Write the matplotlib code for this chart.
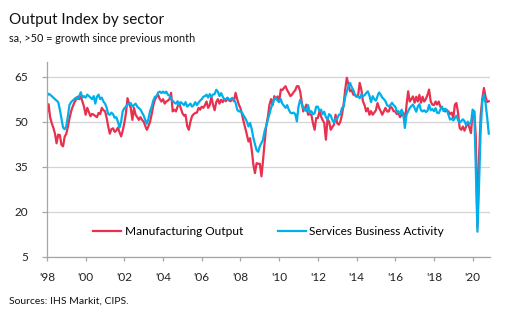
import numpy as np
import pandas as pd
import matplotlib
matplotlib.use("Agg")
import matplotlib.pyplot as plt

# monthly index values, Jan 1998 - Nov 2020
manufacturing = {
    1998: [53.0, 55.8, 51.5, 49.5, 48.0, 46.0, 42.8, 45.7, 45.5, 42.3, 41.8, 45.0],
    1999: [46.0, 48.4, 51.0, 53.4, 55.0, 56.3, 57.3, 58.3, 57.5, 58.3, 56.7, 55.0],
    2000: [52.3, 54.6, 53.2, 51.8, 52.6, 52.3, 51.9, 51.5, 52.9, 52.5, 54.6, 53.8],
    2001: [53.5, 51.2, 48.5, 46.0, 47.5, 47.8, 46.6, 47.0, 48.0, 46.5, 45.1, 47.0],
    2002: [49.6, 53.0, 57.8, 56.0, 54.6, 50.6, 54.6, 52.3, 51.5, 50.6, 51.5, 50.6],
    2003: [50.0, 48.5, 47.3, 48.5, 50.0, 52.5, 55.4, 57.3, 58.3, 58.9, 57.5, 56.7],
    2004: [57.5, 56.0, 56.7, 57.0, 57.5, 59.6, 53.4, 54.0, 53.4, 55.0, 56.3, 54.5],
    2005: [52.8, 52.0, 52.3, 48.5, 47.3, 50.0, 51.8, 52.5, 52.9, 53.0, 54.6, 54.0],
    2006: [55.0, 54.6, 55.5, 56.7, 54.6, 55.5, 58.3, 55.7, 53.8, 56.5, 57.5, 56.0],
    2007: [57.3, 56.5, 57.5, 56.8, 57.8, 57.0, 56.8, 57.9, 56.8, 59.6, 57.5, 55.7],
    2008: [54.5, 52.3, 50.0, 47.9, 45.7, 43.4, 44.5, 40.7, 35.7, 32.9, 36.2, 36.0],
    2009: [36.0, 31.8, 36.8, 43.0, 48.5, 51.5, 55.5, 57.5, 55.5, 58.5, 57.5, 58.4],
    2010: [56.7, 60.7, 60.5, 61.2, 61.8, 60.5, 59.6, 58.5, 59.0, 59.8, 60.5, 61.8],
    2011: [61.8, 60.1, 56.8, 53.4, 54.5, 55.7, 52.3, 52.5, 52.3, 49.5, 47.3, 51.2],
    2012: [51.2, 53.4, 51.8, 50.5, 49.6, 44.0, 50.7, 50.0, 47.3, 48.2, 49.0, 52.3],
    2013: [49.5, 49.0, 50.0, 52.3, 55.7, 60.7, 64.6, 62.3, 60.1, 60.5, 59.0, 58.8],
    2014: [58.3, 59.0, 62.9, 60.7, 56.8, 55.5, 53.4, 54.5, 52.3, 53.5, 52.3, 53.0],
    2015: [53.8, 56.2, 54.6, 53.5, 52.3, 53.5, 54.6, 53.4, 53.4, 55.0, 54.6, 53.5],
    2016: [53.4, 52.5, 52.9, 51.5, 52.3, 53.0, 49.5, 55.5, 60.1, 56.7, 57.5, 58.4],
    2017: [56.3, 58.3, 56.7, 58.9, 56.3, 58.3, 56.7, 57.5, 58.9, 60.7, 56.7, 55.7],
    2018: [55.5, 56.7, 55.7, 56.7, 55.0, 54.6, 54.0, 53.4, 53.8, 53.4, 52.5, 53.0],
    2019: [51.2, 55.7, 56.2, 53.0, 47.9, 47.3, 48.4, 47.0, 48.4, 49.5, 48.0, 46.2],
    2020: [53.0, 53.4, 45.0, 15.0, 38.0, 52.0, 57.5, 61.2, 58.3, 56.5, 56.8],
}

services = {
    1998: [58.5, 59.3, 59.0, 58.5, 58.0, 57.5, 57.0, 56.5, 54.0, 51.0, 48.0, 47.5],
    1999: [48.5, 52.0, 55.5, 56.5, 57.0, 57.5, 58.0, 57.5, 58.5, 59.8, 58.0, 58.5],
    2000: [58.0, 59.0, 58.5, 58.0, 57.5, 58.5, 56.0, 58.3, 59.0, 57.5, 58.0, 56.7],
    2001: [56.0, 54.7, 52.5, 52.3, 53.0, 52.5, 51.3, 51.5, 50.0, 48.0, 50.0, 53.5],
    2002: [54.5, 55.0, 55.7, 56.0, 56.2, 55.0, 55.5, 56.0, 55.0, 54.5, 54.0, 53.0],
    2003: [52.0, 50.5, 49.3, 51.0, 53.5, 55.0, 57.0, 58.3, 58.5, 59.7, 60.0, 59.5],
    2004: [60.0, 59.5, 60.0, 59.0, 58.7, 57.5, 57.0, 56.3, 56.0, 56.8, 55.5, 56.5],
    2005: [56.0, 55.5, 56.5, 55.0, 55.5, 56.0, 55.0, 55.5, 56.5, 55.5, 56.3, 57.0],
    2006: [57.5, 58.3, 58.5, 59.0, 58.0, 59.2, 58.3, 59.0, 59.2, 60.6, 60.0, 58.5],
    2007: [59.5, 58.3, 57.5, 57.5, 58.0, 57.3, 57.5, 57.8, 57.3, 56.3, 54.0, 53.4],
    2008: [53.5, 53.0, 52.0, 51.2, 50.0, 48.4, 49.6, 47.5, 44.6, 42.5, 40.5, 40.0],
    2009: [41.8, 43.0, 44.0, 46.8, 48.5, 50.7, 52.5, 54.6, 56.0, 57.5, 58.0, 57.0],
    2010: [56.5, 57.5, 56.0, 55.3, 54.6, 55.5, 54.0, 53.0, 52.8, 53.0, 52.5, 50.1],
    2011: [55.0, 57.3, 56.0, 54.6, 54.0, 53.5, 55.5, 53.0, 53.5, 52.5, 52.8, 55.0],
    2012: [55.0, 53.5, 54.0, 52.5, 53.3, 51.5, 50.7, 52.5, 52.0, 50.6, 49.7, 51.0],
    2013: [51.0, 52.3, 52.4, 54.6, 54.9, 58.3, 60.0, 61.8, 62.9, 61.5, 60.5, 59.0],
    2014: [58.3, 58.5, 57.8, 59.0, 58.5, 58.8, 59.5, 60.1, 58.7, 56.5, 58.5, 57.5],
    2015: [57.0, 58.5, 59.7, 59.0, 58.0, 57.5, 56.8, 55.5, 55.1, 55.5, 56.3, 55.5],
    2016: [55.0, 53.4, 53.5, 52.5, 54.0, 52.5, 47.9, 52.3, 53.5, 54.5, 55.2, 55.7],
    2017: [54.5, 53.3, 55.0, 55.8, 53.8, 53.4, 53.8, 53.2, 53.6, 55.6, 53.8, 54.2],
    2018: [53.5, 54.5, 53.0, 52.8, 54.0, 55.0, 53.5, 54.3, 53.9, 52.3, 50.7, 51.0],
    2019: [50.4, 51.2, 52.0, 50.5, 49.7, 50.2, 50.8, 50.2, 48.8, 50.0, 49.3, 49.6],
    2020: [54.0, 53.4, 34.5, 13.4, 29.0, 47.1, 56.5, 59.0, 56.2, 51.5, 46.0],
}

series_names = ["Manufacturing Output", "Services Business Activity"]
y_ticks = [5, 20, 35, 50, 65]
x_tick_years = list(range(1998, 2021, 2))
x_tick_labels = ["'" + str(y)[2:] for y in x_tick_years]

manu = np.concatenate([manufacturing[y] for y in sorted(manufacturing)])
serv = np.concatenate([services[y] for y in sorted(services)])
dates = pd.date_range("1998-01-01", periods=len(manu), freq="MS")

plt.rcParams["font.family"] = ["Lato", "DejaVu Sans"]

RED = "#e8314f"
BLUE = "#00b0ea"
GRID = "#d4d4d4"

fig = plt.figure(figsize=(5.14, 3.24), dpi=100)
ax = fig.add_axes([0.0914, 0.207, 0.862, 0.603])

ax.plot(dates, manu, color=RED, lw=1.6, label=series_names[0], solid_joinstyle="round")
ax.plot(dates, serv, color=BLUE, lw=1.6, label=series_names[1], solid_joinstyle="round")

ax.set_ylim(5, 70)
ax.set_yticks(y_ticks)
ax.set_xlim(pd.Timestamp("1998-01-01"), pd.Timestamp("2020-11-25"))
ax.set_xticks([pd.Timestamp(f"{y}-01-01") for y in x_tick_years])
ax.set_xticklabels(x_tick_labels)

ax.yaxis.grid(True, color=GRID, lw=0.9)
ax.set_axisbelow(True)
for s in ["top", "right"]:
    ax.spines[s].set_visible(False)
for s in ["left", "bottom"]:
    ax.spines[s].set_color("#a6a6a6")
    ax.spines[s].set_linewidth(0.9)
ax.tick_params(axis="y", length=3.5, width=0.9, color="#a6a6a6", pad=10,
               labelsize=8.5, labelcolor="#222222")
ax.tick_params(axis="x", length=3, width=0.9, color="#a6a6a6", pad=8,
               labelsize=8.5, labelcolor="#222222")

ax.legend(loc="lower center", bbox_to_anchor=(0.5, 0.045), ncol=2, frameon=False,
          fontsize=8.6, handlelength=2.35, handletextpad=0.3, columnspacing=2.9)

fig.text(0.0175, 0.925, "Output Index by sector", fontsize=11, color="#111111")
fig.text(0.0175, 0.87, "sa, >50 = growth since previous month", fontsize=7.8,
         color="#111111")
fig.text(0.0175, 0.062, "Sources: IHS Markit, CIPS.", fontsize=7.5, color="#111111")

fig.savefig("out.png", dpi=100)
